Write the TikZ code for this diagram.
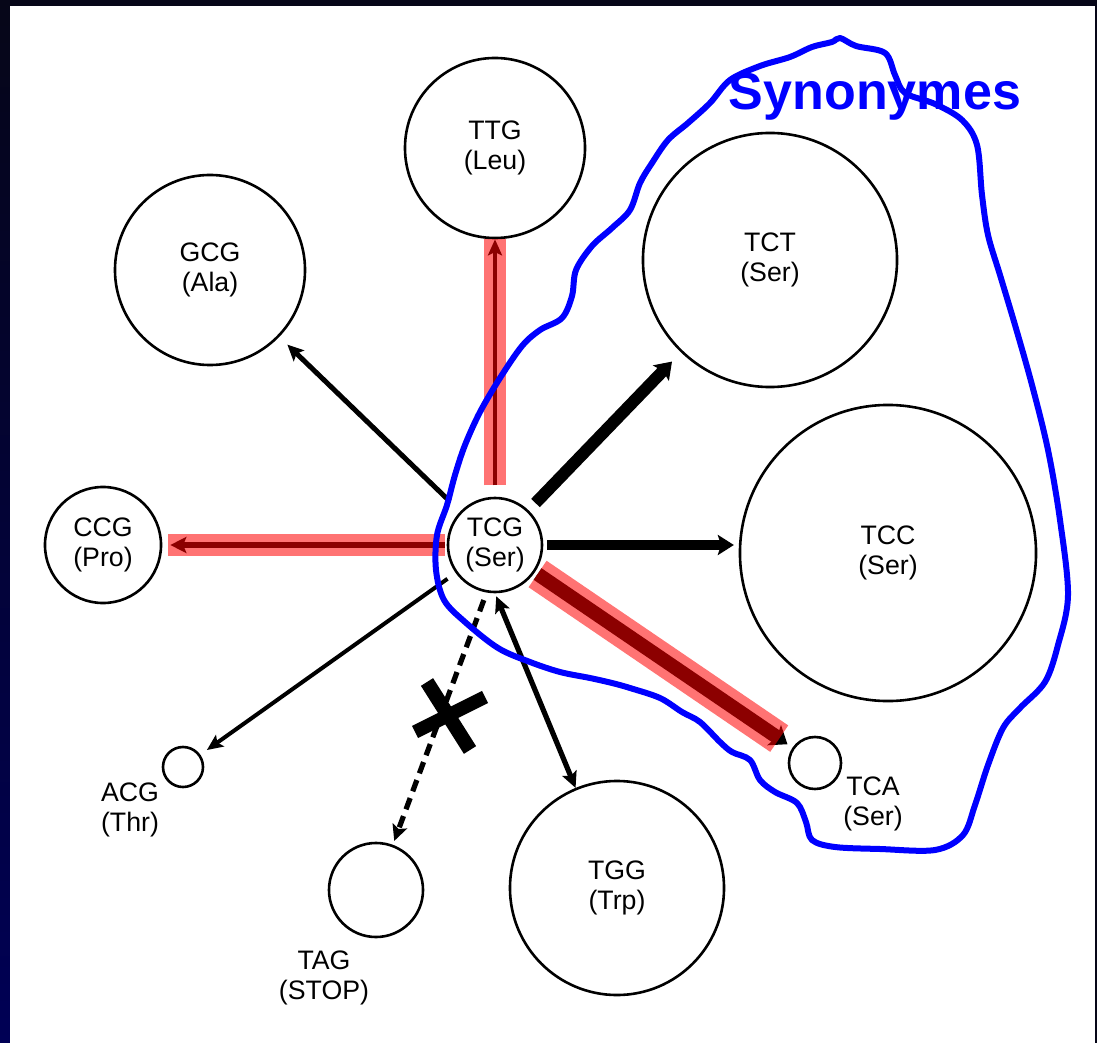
\documentclass[tikz,border=0pt]{standalone}
\usepackage{fontspec}
\setmainfont{Liberation Sans}
\usetikzlibrary{arrows.meta, positioning, calc}

\definecolor{slide}{RGB}{0,0,85}
\definecolor{slidetop}{RGB}{6,6,24}
\definecolor{synblue}{RGB}{0,0,255}
\newcommand{\codonfont}{\fontsize{19}{21.5}\selectfont}

\begin{document}
\begin{tikzpicture}[
    x=0.025cm, y=-0.025cm,
    codon/.style={circle, draw, line width=0.065cm, fill=white, align=center, inner sep=0pt, minimum size=#1, font=\codonfont},
    side/.style={align=center, inner sep=0pt, font=\codonfont},
    mut/.style={line width=#1, -{Stealth[length=0.4cm, width=0.25cm 1, inset=0.08cm]}},
    twoway/.style={line width=#1, {Stealth[length=0.4cm, width=0.25cm 1, inset=0.08cm]}-{Stealth[length=0.4cm, width=0.25cm 1, inset=0.08cm]}},
    hot/.style={line width=#1, draw=red, draw opacity=0.55},
    syn/.style={line width=0.15cm, draw=synblue, line join=round, line cap=round}
]
\useasboundingbox (0,0) rectangle (1097,1043);

% slide frame
\fill[slidetop] (0,0) rectangle (1097,1043);
\shade[top color=slidetop, bottom color=slide] (0,0) rectangle (10,1043);
\fill[white] (10,6) rectangle (1095,1043);

% codons
\node[codon=2.35cm] (tcg) at (495,545) {TCG\\(Ser)};
\node[codon=4.5cm] (ttg) at (495,148) {TTG\\(Leu)};
\node[codon=4.75cm] (gcg) at (210,270) {GCG\\(Ala)};
\node[codon=6.35cm] (tct) at (770,260) {TCT\\(Ser)};
\node[codon=7.4cm] (tcc) at (888,553) {TCC\\(Ser)};
\node[codon=2.9cm] (ccg) at (103,545) {CCG\\(Pro)};
\node[codon=1.0cm] (acg) at (183,767) {};
\node[codon=2.35cm] (tag) at (376,890) {};
\node[codon=5.35cm] (tgg) at (617,888) {TGG\\(Trp)};
\node[codon=1.3cm] (tca) at (815,763) {};

\node[side] (acgl) at (130,810) {ACG\\(Thr)};
\node[side] (tagl) at (324,978) {TAG\\(STOP)};
\node[side] (tcal) at (873,804) {TCA\\(Ser)};

% point mutations
\draw[mut=0.125cm, shorten <=0.36cm, shorten >=0.28cm] (tcg) -- (gcg);
\draw[mut=0.3cm, shorten <=0.25cm, shorten >=0.32cm] (tcg) -- (tct);
\draw[mut=0.25cm, shorten <=0.1cm, shorten >=0.12cm] (tcg.east) -- (tcg.east -| tcc.west);
\draw[mut=0.1cm, shorten <=0.25cm, shorten >=0.2cm] (tcg) -- (acg);
\draw[mut=0.13cm, dash pattern=on 0.3cm off 0.18cm, shorten <=0.2cm, shorten >=0.1cm] (tcg.-100) -- (tag);
\draw[twoway=0.13cm, shorten <=0.08cm] (tcg.south) -- (tgg);
\draw[mut=0.35cm, shorten <=0.08cm, shorten >=0.15cm] (tcg) -- (tca);
\draw[mut=0.1cm, shorten <=0.28cm] (tcg.north) -- (ttg.south);
\draw[mut=0.15cm, shorten <=0.05cm, shorten >=0.2cm] (tcg) -- (ccg);

% highlighted ones
\draw[hot=0.53cm, shorten <=0.28cm] (tcg.north) -- (ttg.south);
\draw[hot=0.55cm, shorten <=0.05cm, shorten >=0.15cm] (tcg) -- (ccg);
\draw[hot=0.8cm, shorten <=0.08cm, shorten >=0.4cm] (tcg) -- (tca);

% stop codon is crossed out
\coordinate (block) at (448,716);
\draw[line width=0.36cm] ($(block)+(-21,-34)$) -- ($(block)+(22,34)$);
\draw[line width=0.34cm] ($(block)+(-33,16)$) -- ($(block)+(37,-19)$);

% synonymous group
\draw[syn] plot[smooth cycle, tension=0.55] coordinates {
  (840,38) (856,46) (885,53) (895,75) (905,93) (935,104) (962,120) (977,145)
  (982,195) (988,235) (1000,275) (1015,325) (1032,385) (1048,450) (1060,520)
  (1068,595) (1058,645) (1045,682) (1020,708) (1003,728) (988,765) (975,805)
  (963,835) (935,850) (880,849) (835,847) (812,840) (806,822) (797,803)
  (775,792) (760,780) (750,760) (732,752) (720,742) (700,722) (682,712)
  (660,698) (630,688) (612,683) (590,678) (560,672) (530,662) (498,648)
  (465,622) (444,600) (436,570) (437,535) (447,505) (455,475) (465,445)
  (480,412) (500,378) (522,346) (540,330) (562,318) (572,296) (576,270)
  (592,246) (612,228) (630,210) (640,183) (652,163) (668,140) (688,123)
  (710,103) (730,80) (760,66) (790,57) (812,47) (832,42)};
\node[font=\fontsize{37}{40}\selectfont\bfseries, text=synblue, anchor=base, inner sep=0pt] (synlabel) at (875,110) {Synonymes};
\end{tikzpicture}
\end{document}
